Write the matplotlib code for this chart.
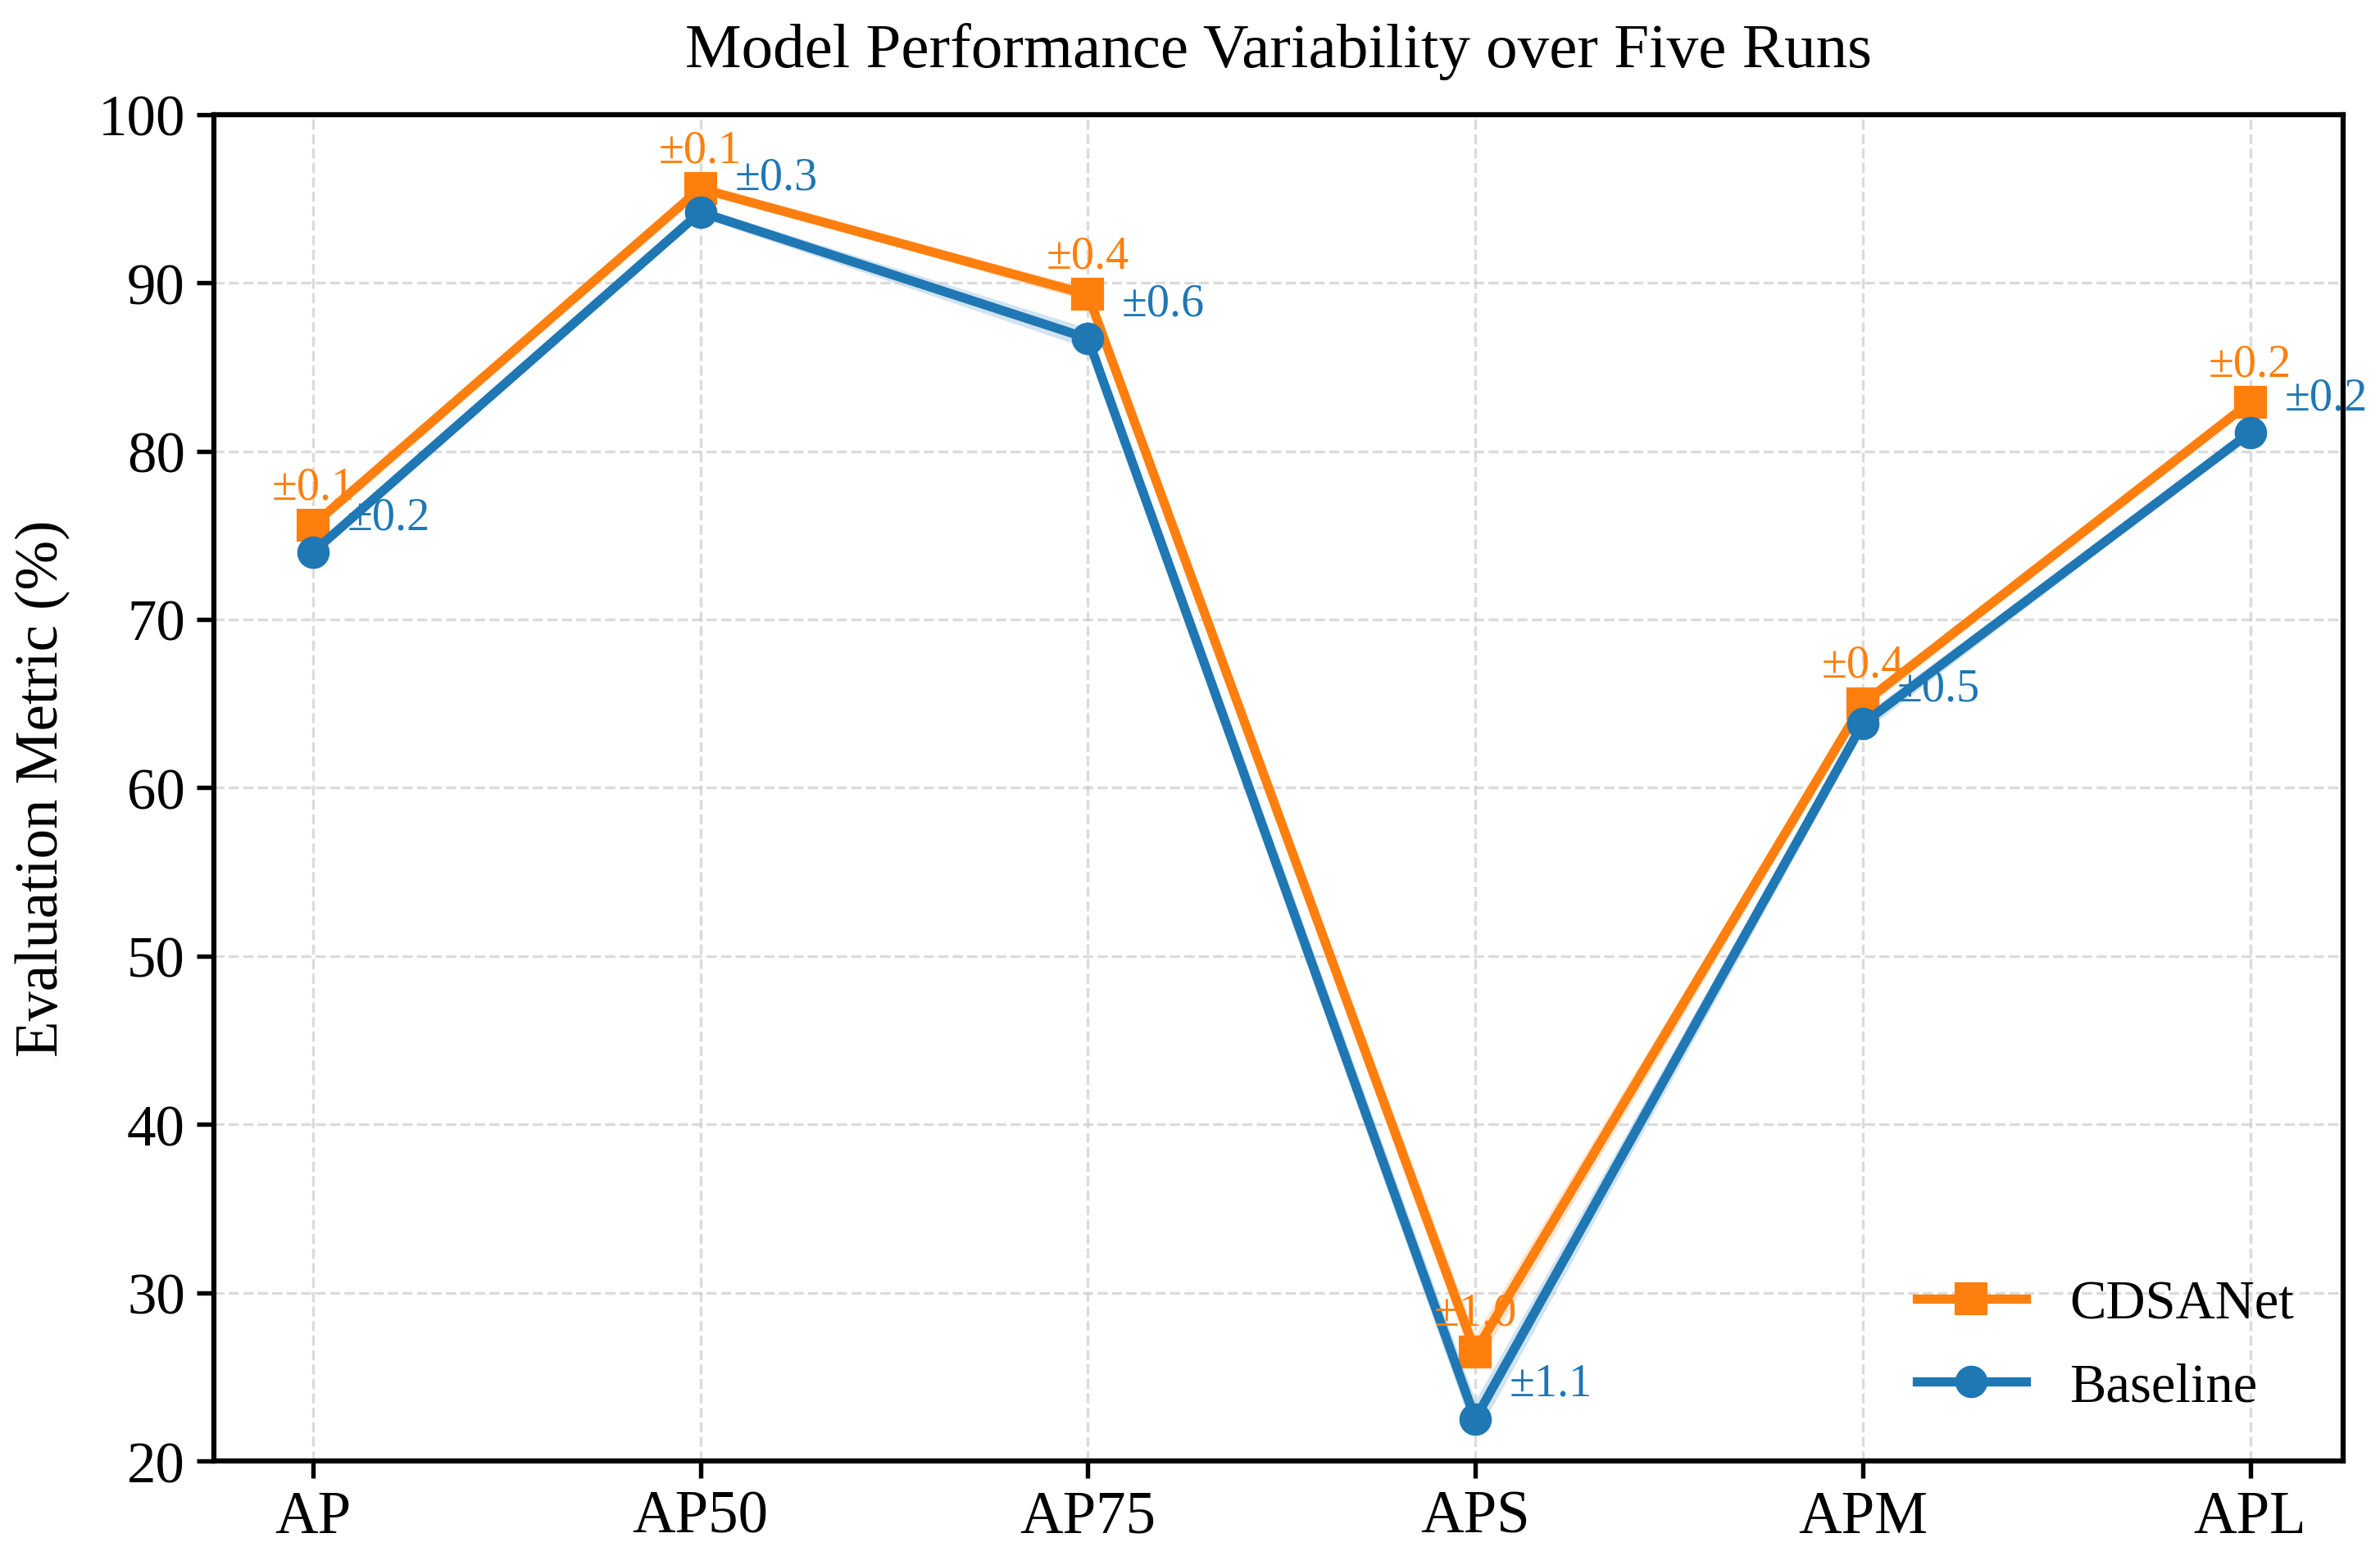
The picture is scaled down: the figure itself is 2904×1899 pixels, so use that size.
import numpy as np
import matplotlib
matplotlib.use("Agg")
import matplotlib.pyplot as plt

plt.rcParams['font.family'] = ['Liberation Serif', 'DejaVu Serif']

metrics = ["AP", "AP50", "AP75", "APS", "APM", "APL"]
cdsanet_mean = [75.6, 95.6, 89.3, 26.5, 65.0, 82.9]
cdsanet_std = [0.1, 0.1, 0.4, 1.0, 0.4, 0.2]
baseline_mean = [74.0, 94.2, 86.7, 22.5, 63.8, 81.1]
baseline_std = [0.2, 0.3, 0.6, 1.1, 0.5, 0.2]

orange = "#ff7f0e"
blue = "#1f77b4"

x = np.arange(len(metrics))
cm = np.array(cdsanet_mean)
cs = np.array(cdsanet_std)
bm = np.array(baseline_mean)
bs = np.array(baseline_std)

fig = plt.figure(figsize=(9.68, 6.333), dpi=300)
ax = fig.add_axes([0.09, 0.061, 0.8945, 0.865])

# shaded band = mean +/- std over the five runs
ax.fill_between(x, cm - cs, cm + cs, color=orange, alpha=0.2, lw=0)
ax.fill_between(x, bm - bs, bm + bs, color=blue, alpha=0.2, lw=0)
ax.plot(x, cm, color=orange, marker="s", lw=2.7, ms=8.5, label="CDSANet", zorder=3)
ax.plot(x, bm, color=blue, marker="o", lw=2.7, ms=8.5, label="Baseline", zorder=3)

for i in range(len(x)):
    ax.annotate(f"±{cs[i]:.1f}", (x[i], cm[i]), xytext=(0, 5), textcoords="offset points",
                ha="center", va="bottom", color=orange, fontsize=13.5)
    ax.annotate(f"±{bs[i]:.1f}", (x[i], bm[i]), xytext=(10, 4), textcoords="offset points",
                ha="left", va="bottom", color=blue, fontsize=13.5)

ax.set_xticks(x)
ax.set_xticklabels(metrics, fontsize=17.5)
ax.set_ylim(20, 100)
ax.set_xlim(-0.255, 5.24)
ax.tick_params(axis="y", labelsize=17, width=1.3, length=5)
ax.tick_params(axis="x", width=1.3, length=5)
ax.set_ylabel("Evaluation Metric (%)", fontsize=17.5, labelpad=8)
ax.set_title("Model Performance Variability over Five Runs", fontsize=18.5, pad=14)
ax.grid(True, linestyle="--", color="#cccccc", alpha=0.7, lw=0.8)
for sp in ax.spines.values():
    sp.set_linewidth(1.5)

ax.legend(loc="lower right", bbox_to_anchor=(1.0, 0.0), frameon=False, fontsize=16,
          handlelength=2.0, labelspacing=0.6)

fig.savefig("out.png", dpi=300)
